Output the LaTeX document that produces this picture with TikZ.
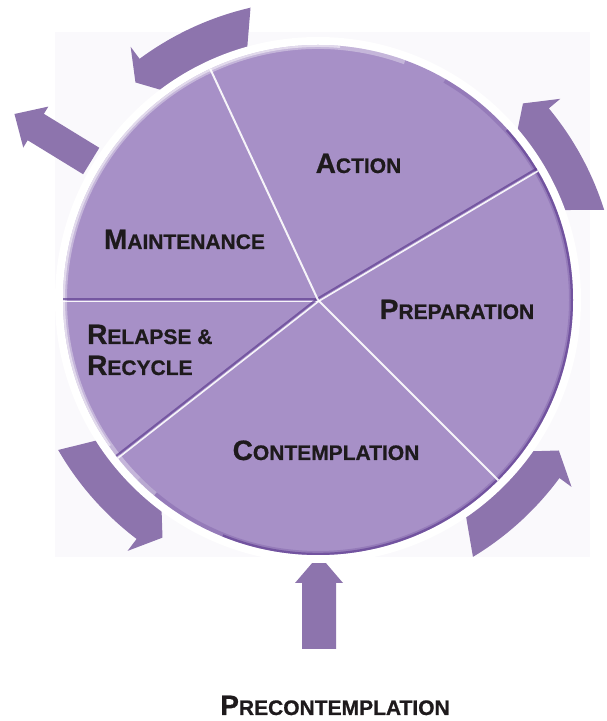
\documentclass[tikz,border=0pt]{standalone}
\usepackage{fontspec}
\setmainfont{Liberation Sans}[BoldFeatures={FakeBold=0.8}]
\usetikzlibrary{calc}
\definecolor{piefill}{HTML}{A790C7}
\definecolor{arrfill}{HTML}{8D74AD}
\definecolor{rimcol}{HTML}{603F92}
\definecolor{bgcol}{HTML}{FAF9FC}
\definecolor{inkcol}{HTML}{1E1A1C}
\newcommand\stg[2]{{\fontsize{28}{30}\selectfont #1}{\fontsize{21}{24}\selectfont #2}}
% curved arrow: tail inner angle, tail outer angle, barb inner angle, barb outer angle, tip angle
\newcommand\cycarrow[5]{%
  \fill[arrowfill] ($(C)+(#1:258)$) arc[start angle=#1, end angle=#3, radius=258]
    -- ($(C)+(#3:252)$) -- ($(C)+(#5:284)$) -- ($(C)+(#4:315)$) -- ($(C)+(#4:300)$)
    arc[start angle=#4, end angle=#2, radius=300] -- cycle;}
\newcommand\groove[2]{% angle, side of dark line
  \draw[groovedark] ([shift={(#1+#2:1.4)}]C) -- ([shift={(#1+#2:1.4)}]$(C)+(#1:256)$);
  \draw[groovelight] ([shift={(#1-#2:1.4)}]C) -- ([shift={(#1-#2:1.4)}]$(C)+(#1:256)$);}
\begin{document}
\begin{tikzpicture}[x=1pt,y=1pt,
  lbl/.style={font=\bfseries, text=inkcol, inner sep=0pt},
  arrowfill/.style={fill=arrfill, draw=none},
  groovedark/.style={draw=rimcol, line width=2pt, opacity=0.7},
  groovelight/.style={draw=white, line width=1.6pt, opacity=0.9},
  whiteline/.style={draw=white, line width=2pt, opacity=0.9}]
\useasboundingbox (0,0) rectangle (607,721);
\fill[white] (0,0) rectangle (607,721);
\fill[bgcol] (55,164) rectangle (590,689);
\coordinate (C) at (318,421);

% cycle arrows around the wheel
\cycarrow{106}{103}{125}{126.5}{130}
\cycarrow{20.4}{17.5}{38.6}{39.7}{43.8}
\cycarrow{-55.2}{-58.9}{-37}{-36.4}{-32}
\cycarrow{-147.3}{-150}{-128.5}{-127.2}{-123.2}

% exit arrow (upper left)
\begin{scope}[shift={(C)}, rotate=148.5]
  \fill[arrowfill] (266,-15.5) -- (331,-15.5) -- (331,-24) -- (356,0) -- (331,24) -- (331,15.5) -- (266,15.5) -- cycle;
\end{scope}

% entry arrow (bottom)
\fill[arrowfill] (302,72) -- (336,72) -- (336,138) -- (343,138) -- (319,166) -- (295,138) -- (302,138) -- cycle;

% halo and pie
\fill[white] (C) circle[radius=263];
\fill[piefill] (C) circle[radius=255];

\begin{scope}
  \clip (C) circle[radius=255];
  % rim shading
  \draw[rimcol, line width=8pt, opacity=0.25] ($(C)+(-135:255)$) arc[start angle=-135, end angle=60, radius=255];
  \draw[rimcol, line width=4.5pt, opacity=0.65] ($(C)+(-112:255)$) arc[start angle=-112, end angle=42, radius=255];
  \draw[white, line width=8pt, opacity=0.35] ($(C)+(70:255)$) arc[start angle=70, end angle=230, radius=255];
  \draw[white, line width=4pt, opacity=0.5] ($(C)+(85:255)$) arc[start angle=85, end angle=215, radius=255];
  % slice boundaries
  \groove{30.7}{90}
  \groove{180}{-90}
  \groove{218}{-90}
  \draw[whiteline] (C) -- ($(C)+(115:256)$);
  \draw[whiteline] (C) -- ($(C)+(-45:256)$);
\end{scope}

% labels
\node[lbl, anchor=base] (action) at (358.5,548) {\stg{A}{CTION}};
\node[lbl, anchor=base] (maint) at (184.5,472) {\stg{M}{AINTENANCE}};
\node[lbl, anchor=base] (prep) at (457,402) {\stg{P}{REPARATION}};
\node[lbl, anchor=base] (contemp) at (326,261) {\stg{C}{ONTEMPLATION}};
\node[lbl, anchor=base west] (relapse) at (87,377) {\stg{R}{ELAPSE \&}};
\node[lbl, anchor=base west] (recycle) at (87,346) {\stg{R}{ECYCLE}};
\node[lbl, anchor=base] (precontemp) at (335,6) {\stg{P}{RECONTEMPLATION}};
\end{tikzpicture}
\end{document}
